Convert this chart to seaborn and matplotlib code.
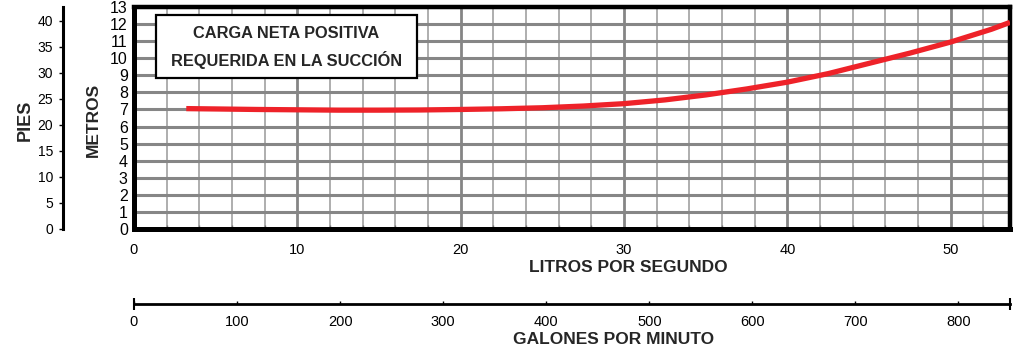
import numpy as np
import pandas as pd
import matplotlib
matplotlib.use("Agg")
import matplotlib.pyplot as plt
from matplotlib.patches import Rectangle
from matplotlib.ticker import MultipleLocator, FixedLocator
import seaborn as sns

# NPSH requerido: caudal (L/s) contra carga (m)
litros_por_segundo = [3.2, 5.0, 7.5, 10.0, 12.5, 15.0, 17.5, 20.0, 22.5, 25.0, 27.5,
                      30.0, 32.5, 35.0, 37.5, 40.0, 42.5, 45.0, 47.5, 50.0, 52.5, 53.63]
metros = [7.05, 7.03, 7.00, 6.98, 6.96, 6.96, 6.97, 7.00, 7.04, 7.10, 7.20,
          7.34, 7.56, 7.85, 8.20, 8.60, 9.10, 9.70, 10.30, 10.95, 11.70, 12.10]

metros_ticks = list(range(0, 14))
pies_ticks = [0, 5, 10, 15, 20, 25, 30, 35, 40]
lps_ticks = [0, 10, 20, 30, 40, 50]
gpm_ticks = [0, 100, 200, 300, 400, 500, 600, 700, 800]

M_TO_FT = 3.28084
LPS_TO_GPM = 15.850323
X_MAX_GPM = 850
X_MAX_LPS = X_MAX_GPM / LPS_TO_GPM
Y_MAX_M = 13

sns.set_theme(style="white")
plt.rcParams["font.family"] = ["Liberation Sans", "DejaVu Sans"]

W, H = 1013, 350
fig = plt.figure(figsize=(W / 100, H / 100), dpi=100)

def fx(px):
    return px / W

def fy(py):
    return 1 - py / H

left, right, top, bottom = 134, 1010, 7, 229
ax = fig.add_axes([fx(left), fy(bottom), fx(right - left), (bottom - top) / H])

df = pd.DataFrame({"lps": litros_por_segundo, "m": metros})
sns.lineplot(data=df, x="lps", y="m", ax=ax, color="#ee2229", linewidth=3.8,
             solid_capstyle="butt", zorder=5)

ax.set_xlim(0, X_MAX_LPS)
ax.set_ylim(0, Y_MAX_M)
ax.xaxis.set_major_locator(FixedLocator(lps_ticks))
ax.xaxis.set_minor_locator(MultipleLocator(2))
ax.yaxis.set_major_locator(FixedLocator(metros_ticks))

ax.grid(which="major", axis="x", color="#858585", linewidth=2.0, zorder=1)
ax.grid(which="minor", axis="x", color="#a8a8a8", linewidth=1.3, zorder=1)
ax.grid(which="major", axis="y", color="#868686", linewidth=2.2, zorder=1)
ax.set_axisbelow(True)

for s in ax.spines.values():
    s.set_visible(True)
    s.set_color("black")
    s.set_linewidth(3.6)
ax.spines["top"].set_linewidth(3.2)
ax.spines["right"].set_linewidth(3.2)

ax.tick_params(axis="y", which="major", direction="out", length=3, width=1,
               color="black", pad=1.5, labelsize=11.5, labelcolor="black")
ax.tick_params(axis="x", which="major", direction="in", length=3, width=1,
               color="#555555", pad=10, labelsize=10.5, labelcolor="black")
ax.tick_params(axis="x", which="minor", direction="in", length=3, width=1,
               color="#777777", bottom=True)
for lab in ax.get_yticklabels():
    lab.set_fontfamily(["Liberation Sans Narrow", "Liberation Sans", "DejaVu Sans"])
ax.set_xlabel("")
ax.set_ylabel("")

# Recuadro con el titulo de la curva
ax.add_patch(Rectangle(((156 - left) / (right - left), (bottom - 78) / (bottom - top)),
                       261 / (right - left), 63 / (bottom - top),
                       transform=ax.transAxes, facecolor="white", edgecolor="black",
                       linewidth=1.6, zorder=6))
cx = (286.5 - left) / (right - left)
ax.text(cx, (bottom - 33) / (bottom - top), "CARGA NETA POSITIVA", transform=ax.transAxes,
        ha="center", va="center", fontsize=11.8, fontweight="bold", zorder=7)
ax.text(cx, (bottom - 60) / (bottom - top), "REQUERIDA EN LA SUCCIÓN", transform=ax.transAxes,
        ha="center", va="center", fontsize=11.8, fontweight="bold", zorder=7)

# Eje secundario en pies
ax_ft = fig.add_axes([fx(63), fy(bottom), 0.01, (bottom - top) / H])
ax_ft.patch.set_visible(False)
for k, s in ax_ft.spines.items():
    s.set_visible(k == "left")
ax_ft.spines["left"].set_linewidth(2.2)
ax_ft.spines["left"].set_color("black")
ax_ft.set_ylim(0, Y_MAX_M * M_TO_FT)
ax_ft.yaxis.set_major_locator(FixedLocator(pies_ticks))
ax_ft.set_xticks([])
ax_ft.tick_params(axis="y", direction="out", length=3, width=1, color="black",
                  pad=4, labelsize=10, labelcolor="black", left=True)

# Eje secundario en galones por minuto
ax_g = fig.add_axes([fx(left), fy(304), fx(right - left), 0.0001])
ax_g.patch.set_visible(False)
for k, s in ax_g.spines.items():
    s.set_visible(k == "bottom")
ax_g.spines["bottom"].set_linewidth(2.0)
ax_g.spines["bottom"].set_color("black")
ax_g.set_xlim(0, X_MAX_LPS * LPS_TO_GPM)
ax_g.set_yticks([])
ax_g.xaxis.set_major_locator(FixedLocator(gpm_ticks))
ax_g.xaxis.set_minor_locator(FixedLocator([0, X_MAX_GPM]))
ax_g.xaxis.remove_overlapping_locs = False
ax_g.tick_params(axis="x", which="major", direction="in", length=2.5, width=1,
                 color="black", pad=8, labelsize=10.5, labelcolor="black", bottom=True)
ax_g.tick_params(axis="x", which="minor", direction="inout", length=8, width=1.5,
                 color="black", bottom=True)

# Titulos de los ejes
fig.text(fx(628), fy(267), "LITROS POR SEGUNDO", ha="center", va="center",
         fontsize=12.5, fontweight="bold")
fig.text(fx(614), fy(340), "GALONES POR MINUTO", ha="center", va="center",
         fontsize=12.5, fontweight="bold")
fig.text(fx(25), fy(120), "PIES", ha="center", va="center", rotation=90,
         fontsize=13, fontweight="bold")
fig.text(fx(93), fy(120), "METROS", ha="center", va="center", rotation=90,
         fontsize=12.5, fontweight="bold",
         family=["Liberation Sans Narrow", "Liberation Sans", "DejaVu Sans"])

fig.savefig("out.png", dpi=100, facecolor="white")
